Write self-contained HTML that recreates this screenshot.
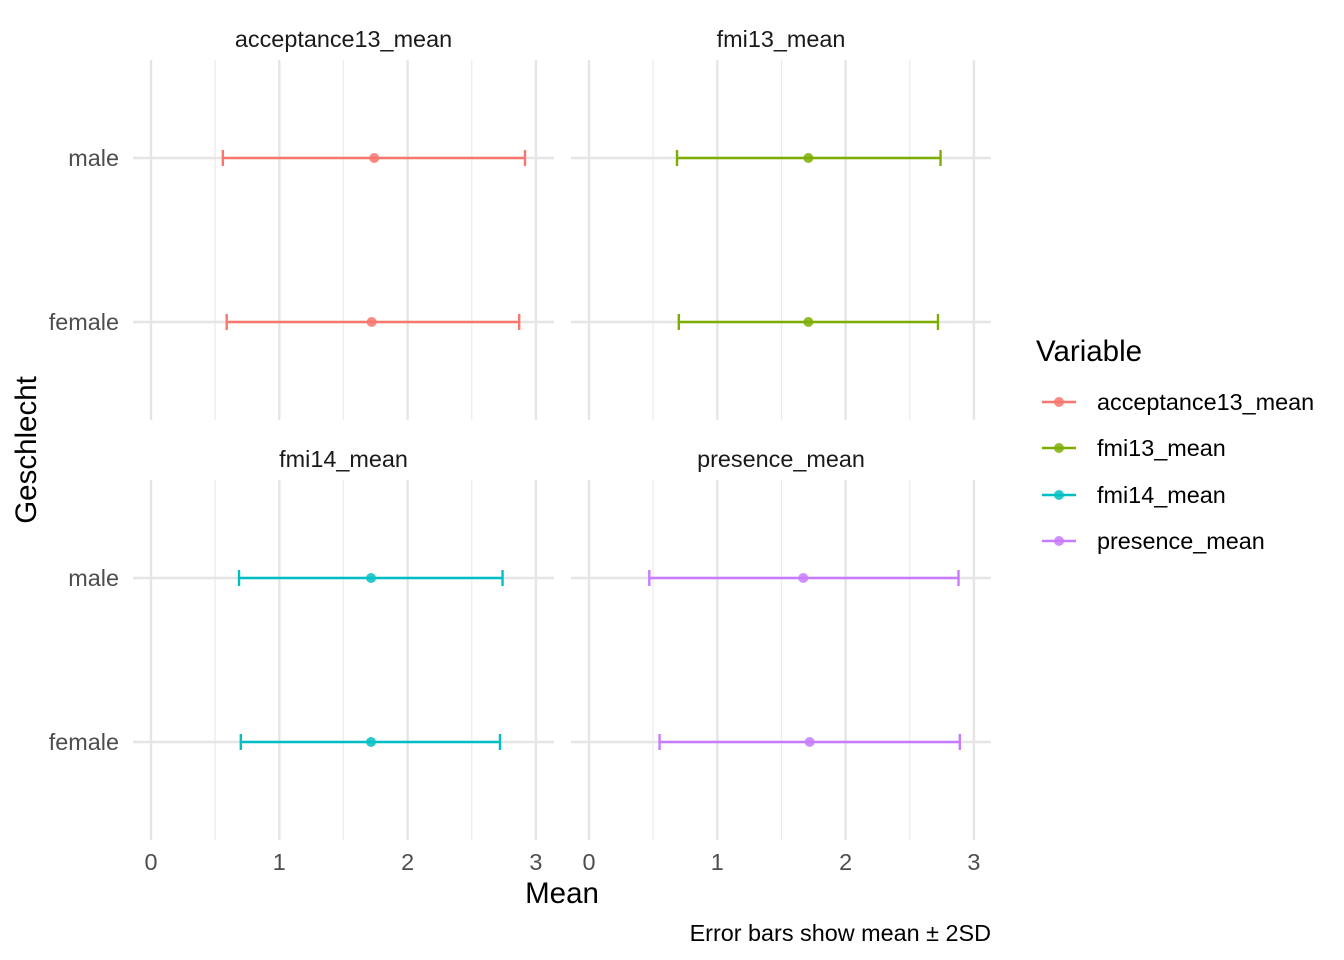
<!DOCTYPE html>
<html><head><meta charset="utf-8"><style>body{margin:0;background:#fff}svg{display:block;font-family:"Liberation Sans",Arial,sans-serif}</style></head>
<body>
<svg id="c" width="1344" height="960"></svg>
<script>
const panels=["acceptance13_mean","fmi13_mean","fmi14_mean","presence_mean"];
const colors=["#F8766D","#7CAE00","#00BFC4","#C77CFF"];
const groups=["male","female"];
const means=[[1.74,1.72],[1.71,1.71],[1.715,1.715],[1.67,1.72]];
const lows=[[0.56,0.59],[0.686,0.70],[0.686,0.70],[0.47,0.55]];
const highs=[[2.915,2.87],[2.74,2.72],[2.74,2.72],[2.88,2.89]];
const xTicks=[0,1,2,3];
const NS="http://www.w3.org/2000/svg";
const svg=document.getElementById('c');
function mk(t,a,p){const e=document.createElementNS(NS,t);for(const k in a)e.setAttribute(k,a[k]);(p||svg).appendChild(e);return e;}
const pX=[[133,554,151],[571,991,589]], pY=[[60,420,158,322],[480,840,578,742]];
const unit=128.3;
const FS=23.4, FT=29.5;
panels.forEach((name,i)=>{
  const c=i%2,r=Math.floor(i/2);
  const [x0,x1,z]=pX[c],[y0,y1,ym,yf]=pY[r];
  const sx=v=>z+v*unit;
  const g=mk('g',{});
  
  
  for(let v=0.5;v<3.2;v+=1) mk('line',{x1:sx(v),x2:sx(v),y1:y0,y2:y1,stroke:'#ebebeb','stroke-width':1.2},g);
  xTicks.forEach(v=>mk('line',{x1:sx(v),x2:sx(v),y1:y0,y2:y1,stroke:'#e5e5e5','stroke-width':2.4},g));
  [ym,yf].forEach(y=>mk('line',{x1:x0,x2:x1,y1:y,y2:y,stroke:'#e5e5e5','stroke-width':2.4},g));
  const st=mk('text',{x:(x0+x1)/2,y:y0-13,'text-anchor':'middle','font-size':FS,fill:'#1a1a1a'},g);
  st.textContent=name;
  
  
  groups.forEach((gr,j)=>{
    const y=j==0?ym:yf;
    const eb=mk('g',{stroke:colors[i],'stroke-width':2.4},g);
    
    
    mk('line',{x1:sx(lows[i][j]),x2:sx(highs[i][j]),y1:y,y2:y},eb);
    mk('line',{x1:sx(lows[i][j]),x2:sx(lows[i][j]),y1:y-8,y2:y+8},eb);
    mk('line',{x1:sx(highs[i][j]),x2:sx(highs[i][j]),y1:y-8,y2:y+8},eb);
    const pt=mk('circle',{cx:sx(means[i][j]),cy:y,r:5,fill:colors[i],'fill-opacity':0.85},g);
    
    
    if(c==0){const t=mk('text',{x:119,y:y+8,'text-anchor':'end','font-size':FS,fill:'#4d4d4d'});t.textContent=gr;
      }
  });
  if(r==1) xTicks.forEach(v=>{const t=mk('text',{x:sx(v),y:870,'text-anchor':'middle','font-size':FS,fill:'#4d4d4d'});t.textContent=v;
    });
});
let t=mk('text',{x:562,y:903,'text-anchor':'middle','font-size':FT,fill:'#000'});t.textContent='Mean';

t=mk('text',{x:0,y:0,transform:'translate(36,450) rotate(-90)','text-anchor':'middle','font-size':FT,fill:'#000'});t.textContent='Geschlecht';

t=mk('text',{x:991,y:941,'text-anchor':'end','font-size':FS,fill:'#000'});t.textContent='Error bars show mean ± 2SD';

t=mk('text',{x:1036,y:361,'font-size':FT,fill:'#000'});t.textContent='Variable';

const ly=[402,448,495,541];
panels.forEach((n,i)=>{
  const g=mk('g',{});
  
  
  mk('line',{x1:1042,x2:1076,y1:ly[i],y2:ly[i],stroke:colors[i],'stroke-width':2.4},g);
  mk('circle',{cx:1059,cy:ly[i],r:5,fill:colors[i],'fill-opacity':0.85},g);
  const tt=mk('text',{x:1097,y:ly[i]+8,'font-size':FS,fill:'#000'},g);tt.textContent=n;
});
</script>
</body></html>
